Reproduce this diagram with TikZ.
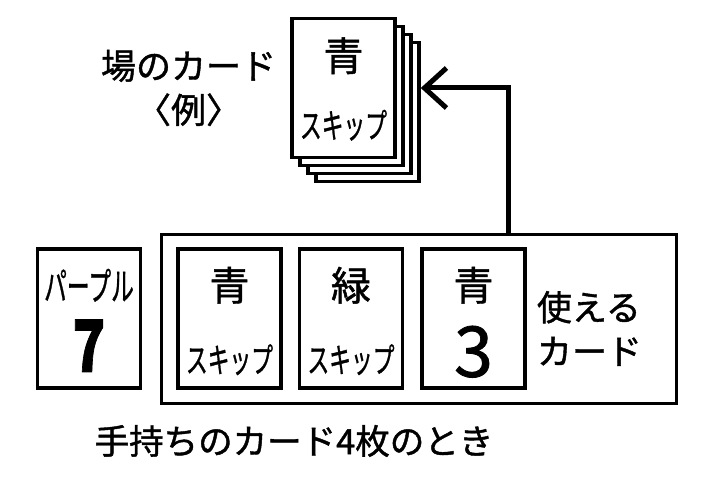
\documentclass[tikz,border=0pt]{standalone}
\usepackage{fontspec}
\setmainfont{Noto Sans CJK JP}[FakeBold=1.2]
\usetikzlibrary{positioning}
\usetikzlibrary{arrows.meta}
\tikzset{
  card/.style={draw, line width=3.5pt, fill=white,
    minimum width=103pt, minimum height=139pt, inner sep=0pt},
  hand/.style={draw, line width=3.5pt, minimum width=515pt,
    minimum height=169pt, inner sep=0pt},
  big/.style={font=\fontsize{40}{40}\selectfont, inner sep=0pt},
  skip/.style={font=\fontsize{34}{34}\selectfont, xscale=0.64, inner sep=0pt},
  num/.style={font=\fontsize{70}{70}\selectfont, inner sep=0pt},
  txt/.style={font=\fontsize{35}{44}\selectfont, inner sep=0pt},
  arr/.style={line width=5pt, -{Straight Barb[length=22pt,width=40pt,line width=5pt]}}
}

\begin{document}
\begin{tikzpicture}[x=1pt,y=1pt]
  \useasboundingbox (0,0) rectangle (709,478);
  % pile on the table
  \foreach \i in {3,2,1}
    \node[card] (s\i) at ({343.5+8*\i},{390-8*\i}) {};
  \node[card] (s0) at (343.5,390) {};
  \node[big] at ([yshift=-39pt]s0.north) {青};
  \node[skip] at ([yshift=34pt]s0.south) {スキップ};
  \node[txt, align=center, left=14pt of s0] (field) {場のカード\\〈例〉};
  % cards in hand
  \node[hand] (hand) at (419,159) {};
  \node[card] (p) at (89,159.5) {};
  \node[font=\fontsize{38}{38}\selectfont, xscale=0.6, inner sep=0pt]
    at ([yshift=-38pt]p.north) {パープル};
  \node[num, font=\fontsize{72}{72}\selectfont\bfseries, xscale=0.75]
    at ([yshift=44pt]p.south) {7};
  \node[card, right=34pt of p] (c1) {};
  \node[card, right=15pt of c1] (c2) {};
  \node[card, right=16pt of c2] (c3) {};
  \node[big] at ([yshift=-38pt]c1.north) {青};
  \node[skip] at ([yshift=30pt]c1.south) {スキップ};
  \node[big] at ([yshift=-38pt]c2.north) {緑};
  \node[skip] at ([yshift=30pt]c2.south) {スキップ};
  \node[big] at ([yshift=-38pt]c3.north) {青};
  \node[num] at ([yshift=38pt]c3.south) {3};
  \node[txt, align=left, right=10pt of c3, yshift=-10pt] (usable) {使える\\カード};
  \node[txt, font=\fontsize{34.5}{34.5}\selectfont] (caption) at (294,37) {手持ちのカード4枚のとき};
  \draw[arr] ([xshift=89pt]hand.north) |- (s3.east |- s0.center);
\end{tikzpicture}
\end{document}
